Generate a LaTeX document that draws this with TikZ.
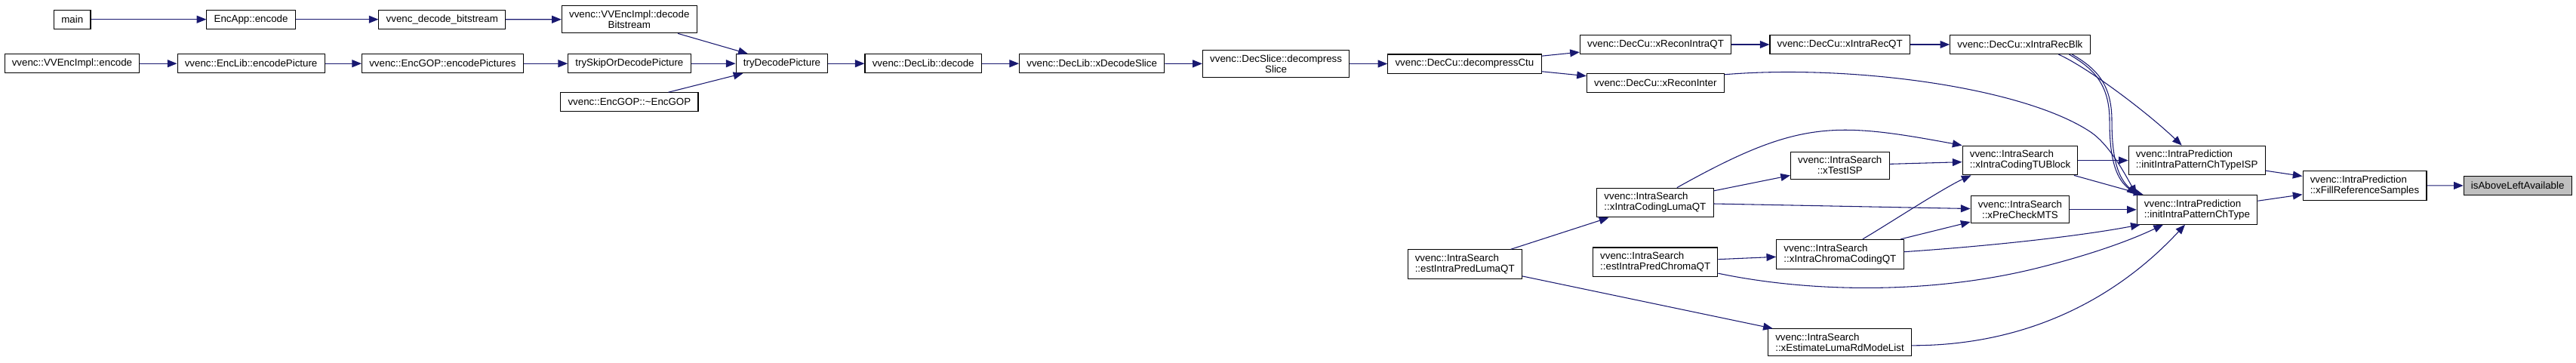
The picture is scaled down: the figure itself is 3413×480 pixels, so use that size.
\documentclass[tikz,border=0pt]{standalone}
\usepackage{fontspec}
\setmainfont{Liberation Sans}
\usetikzlibrary{arrows.meta,calc}
\definecolor{edgeblue}{HTML}{191970}
\definecolor{hlgrey}{HTML}{BFBFBF}

\begin{document}
\begin{tikzpicture}[x=0.75pt,y=-0.75pt,
  fn/.style={draw=black,line width=0.8pt,fill=white,font=\fontsize{10}{10.5}\selectfont,inner xsep=7.3pt,inner ysep=4.6pt,minimum height=18.8pt},
  fnl/.style={fn,align=left},
  fnc/.style={fn,align=center},
  call/.style={draw=edgeblue,line width=0.8pt,-{Triangle[length=9.5pt,width=7.5pt]}}]

\useasboundingbox (0,0) rectangle (3413,480);

\node (main) at (95.8,25.7)[fn]{main};
\node (encapp) at (332.6,25.7)[fn]{EncApp::encode};
\node (decstream) at (585.8,25.7)[fn]{vvenc\_decode\_bitstream};
\node (implbits) at (833.8,25.8)[fnc]{vvenc::VVEncImpl::decode\\Bitstream};

\node (implenc) at (95.5,84.2)[fn]{vvenc::VVEncImpl::encode};
\node (libpic) at (332.6,84.2)[fn]{vvenc::EncLib::encodePicture};
\node (goppics) at (586.4,84.2)[fn]{vvenc::EncGOP::encodePictures};
\node (tryskip) at (833.9,84.2)[fn]{trySkipOrDecodePicture};
\node (gopdtor) at (833.9,135.3)[fn]{vvenc::EncGOP::\textasciitilde EncGOP};

\node (trydec) at (1036,84.2)[fn]{tryDecodePicture};
\node (libdec) at (1223.2,84.2)[fn]{vvenc::DecLib::decode};
\node (libslice) at (1446.7,84.2)[fn]{vvenc::DecLib::xDecodeSlice};
\node (sliceslice) at (1690.6,84.5)[fnc]{vvenc::DecSlice::decompress\\Slice};
\node (cuctu) at (1940.4,84.5)[fn]{vvenc::DecCu::decompressCtu};

\node (cuintraqt) at (2193.5,59)[fn]{vvenc::DecCu::xReconIntraQT};
\node (cuinter) at (2193.3,109.8)[fn]{vvenc::DecCu::xReconInter};
\node (curecqt) at (2437.7,59)[fn]{vvenc::DecCu::xIntraRecQT};
\node (curecblk) at (2676.4,59)[fn]{vvenc::DecCu::xIntraRecBlk};

\node (estluma) at (1940.7,350)[fnl]{vvenc::IntraSearch\\::estIntraPredLumaQT};
\node (lumaqt) at (2192.9,268.5)[fnl]{vvenc::IntraSearch\\::xIntraCodingLumaQT};
\node (estchroma) at (2193.2,347.2)[fnl]{vvenc::IntraSearch\\::estIntraPredChromaQT};
\node (testisp) at (2437.8,219.2)[fnc]{vvenc::IntraSearch\\::xTestISP};
\node (chromaqt) at (2437.9,336.7)[fnl]{vvenc::IntraSearch\\::xIntraChromaCodingQT};
\node (rdlist) at (2437.5,453.8)[fnl]{vvenc::IntraSearch\\::xEstimateLumaRdModeList};
\node (tublock) at (2676.5,212.5)[fnl]{vvenc::IntraSearch\\::xIntraCodingTUBlock};
\node (mts) at (2676.4,277.8)[fnc]{vvenc::IntraSearch\\::xPreCheckMTS};

\node (patisp) at (2910.7,212.5)[fnl]{vvenc::IntraPrediction\\::initIntraPatternChTypeISP};
\node (pat) at (2911,277.8)[fnl]{vvenc::IntraPrediction\\::initIntraPatternChType};
\node (fillref) at (3133,245.8)[fnl]{vvenc::IntraPrediction\\::xFillReferenceSamples};
\node (abovel) at (3335.7,246)[fn,fill=hlgrey]{isAboveLeftAvailable};

\foreach \a/\b in {main/encapp,encapp/decstream,decstream/implbits,implenc/libpic,libpic/goppics,goppics/tryskip,implbits/trydec,tryskip/trydec,gopdtor/trydec,trydec/libdec,libdec/libslice,libslice/sliceslice,sliceslice/cuctu,cuctu/cuintraqt,cuctu/cuinter,cuintraqt/curecqt,curecqt/curecblk,estluma/lumaqt,estluma/rdlist,estchroma/chromaqt,lumaqt/testisp,lumaqt/mts,testisp/tublock,chromaqt/mts,tublock/patisp,tublock/pat,mts/pat,patisp/fillref,pat/fillref,fillref/abovel}
{
\draw[call] (\a) -- (\b);
}

\draw[call] ($(curecblk.south)+(51,0)$) .. controls (2767,90) and (2845,149) .. ($(patisp.north)+(-20,0)$);
\draw[call] ($(curecblk.south)+(65,0)$) .. controls (2772,90) and (2795,110) .. (2795,160) .. controls (2795,215) and (2805,238) .. (pat.north west);
\draw[call] ($(curecblk.south)+(69,0)$) .. controls (2776,90) and (2798,110) .. (2798,160) .. controls (2798,213) and (2807,236) .. (pat.north west);
\draw[call] ($(cuinter.east)+(0,-11)$) .. controls (2450,85) and (2680,115) .. (2770,175) .. controls (2795,192) and (2815,230) .. (pat.north west);

\draw[call] ($(lumaqt.north)+(29,0)$) .. controls (2382,159) and (2429,161) .. (tublock.north west);
\draw[call] ($(chromaqt.north)+(30,0)$) .. controls (2500,298) and (2575,249) .. ($(tublock.south west)+(12,0)$);

\draw[call] ($(chromaqt.east)+(0,-3)$) .. controls (2650,325) and (2760,312) .. ($(pat.south west)+(5,0)$);
\draw[call] ($(estchroma.east)+(0,15)$) .. controls (2400,388) and (2560,390) .. (2700,355) .. controls (2780,335) and (2830,315) .. ($(pat.south)+(-45,0)$);
\draw[call] ($(rdlist.east)+(0,4)$) .. controls (2680,458) and (2800,400) .. ($(pat.south)+(-16,0)$);

\end{tikzpicture}
\end{document}
